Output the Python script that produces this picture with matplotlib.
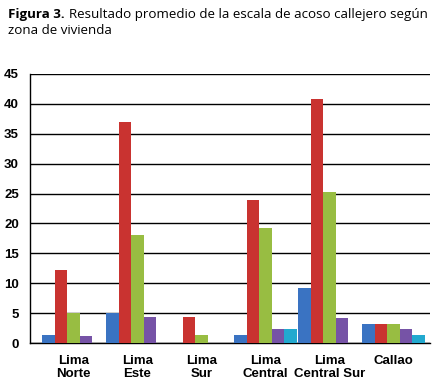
import matplotlib
matplotlib.use("Agg")
import matplotlib.pyplot as plt
import numpy as np

categories = ["Lima\nNorte", "Lima\nEste", "Lima\nSur", "Lima\nCentral", "Lima\nCentral Sur", "Callao"]
serie1 = [1.4, 5.0, 0.0, 1.4, 9.2, 3.2]
serie2 = [12.2, 37.0, 4.3, 24.0, 40.8, 3.2]
serie3 = [5.1, 18.1, 1.4, 19.2, 25.2, 3.2]
serie4 = [1.2, 4.3, 0.0, 2.3, 4.2, 2.3]
serie5 = [0.0, 0.0, 0.0, 2.3, 0.0, 1.4]
series = [serie1, serie2, serie3, serie4, serie5]
colors = ["#3A73C2", "#C93330", "#98BD42", "#7653A6", "#22A9CF"]
yticks = [0, 5, 10, 15, 20, 25, 30, 35, 40, 45]

W, H = 437, 386
fig = plt.figure(figsize=(W / 100, H / 100), dpi=100)
ax = fig.add_axes([30 / W, 1 - 343 / H, 400 / W, (343 - 74) / H])

x = np.arange(len(categories))
bw = 0.197
for i, (vals, c) in enumerate(zip(series, colors)):
    ax.bar(x + (i - 2) * bw, vals, width=bw, color=c, zorder=3, linewidth=0)

ax.set_ylim(0, 45)
ax.set_xlim(-0.68, 5.57)
ax.set_yticks(yticks)
ax.set_yticklabels([str(t) for t in yticks], fontfamily="Liberation Sans",
                   fontweight="bold", fontsize=9.5)
ax.yaxis.grid(True, color="black", linewidth=1.0, zorder=1)
ax.tick_params(axis="y", length=0, pad=8)
ax.set_xticks(x)
ax.set_xticklabels(categories, fontfamily="Liberation Sans", fontweight="bold",
                   fontsize=9.5, linespacing=1.1)
ax.tick_params(axis="x", length=0, pad=9)
for s in ["top", "right"]:
    ax.spines[s].set_visible(False)
ax.spines["left"].set_linewidth(1.0)
ax.spines["bottom"].set_linewidth(1.0)
ax.set_axisbelow(True)

# title with bold prefix
fam = "Open Sans"
fs = 9.6
t1 = fig.text(8 / W, 1 - 18 / H, "Figura 3.", fontfamily=fam, fontweight="bold",
              fontsize=fs, ha="left", va="baseline")
fig.canvas.draw()
bb = t1.get_window_extent()
fig.text((bb.x1 + 4) / W, 1 - 18 / H,
         "Resultado promedio de la escala de acoso callejero según",
         fontfamily=fam, fontsize=fs, ha="left", va="baseline")
fig.text(8 / W, 1 - 34 / H, "zona de vivienda", fontfamily=fam, fontsize=fs,
         ha="left", va="baseline")

fig.savefig("out.png", dpi=100)
